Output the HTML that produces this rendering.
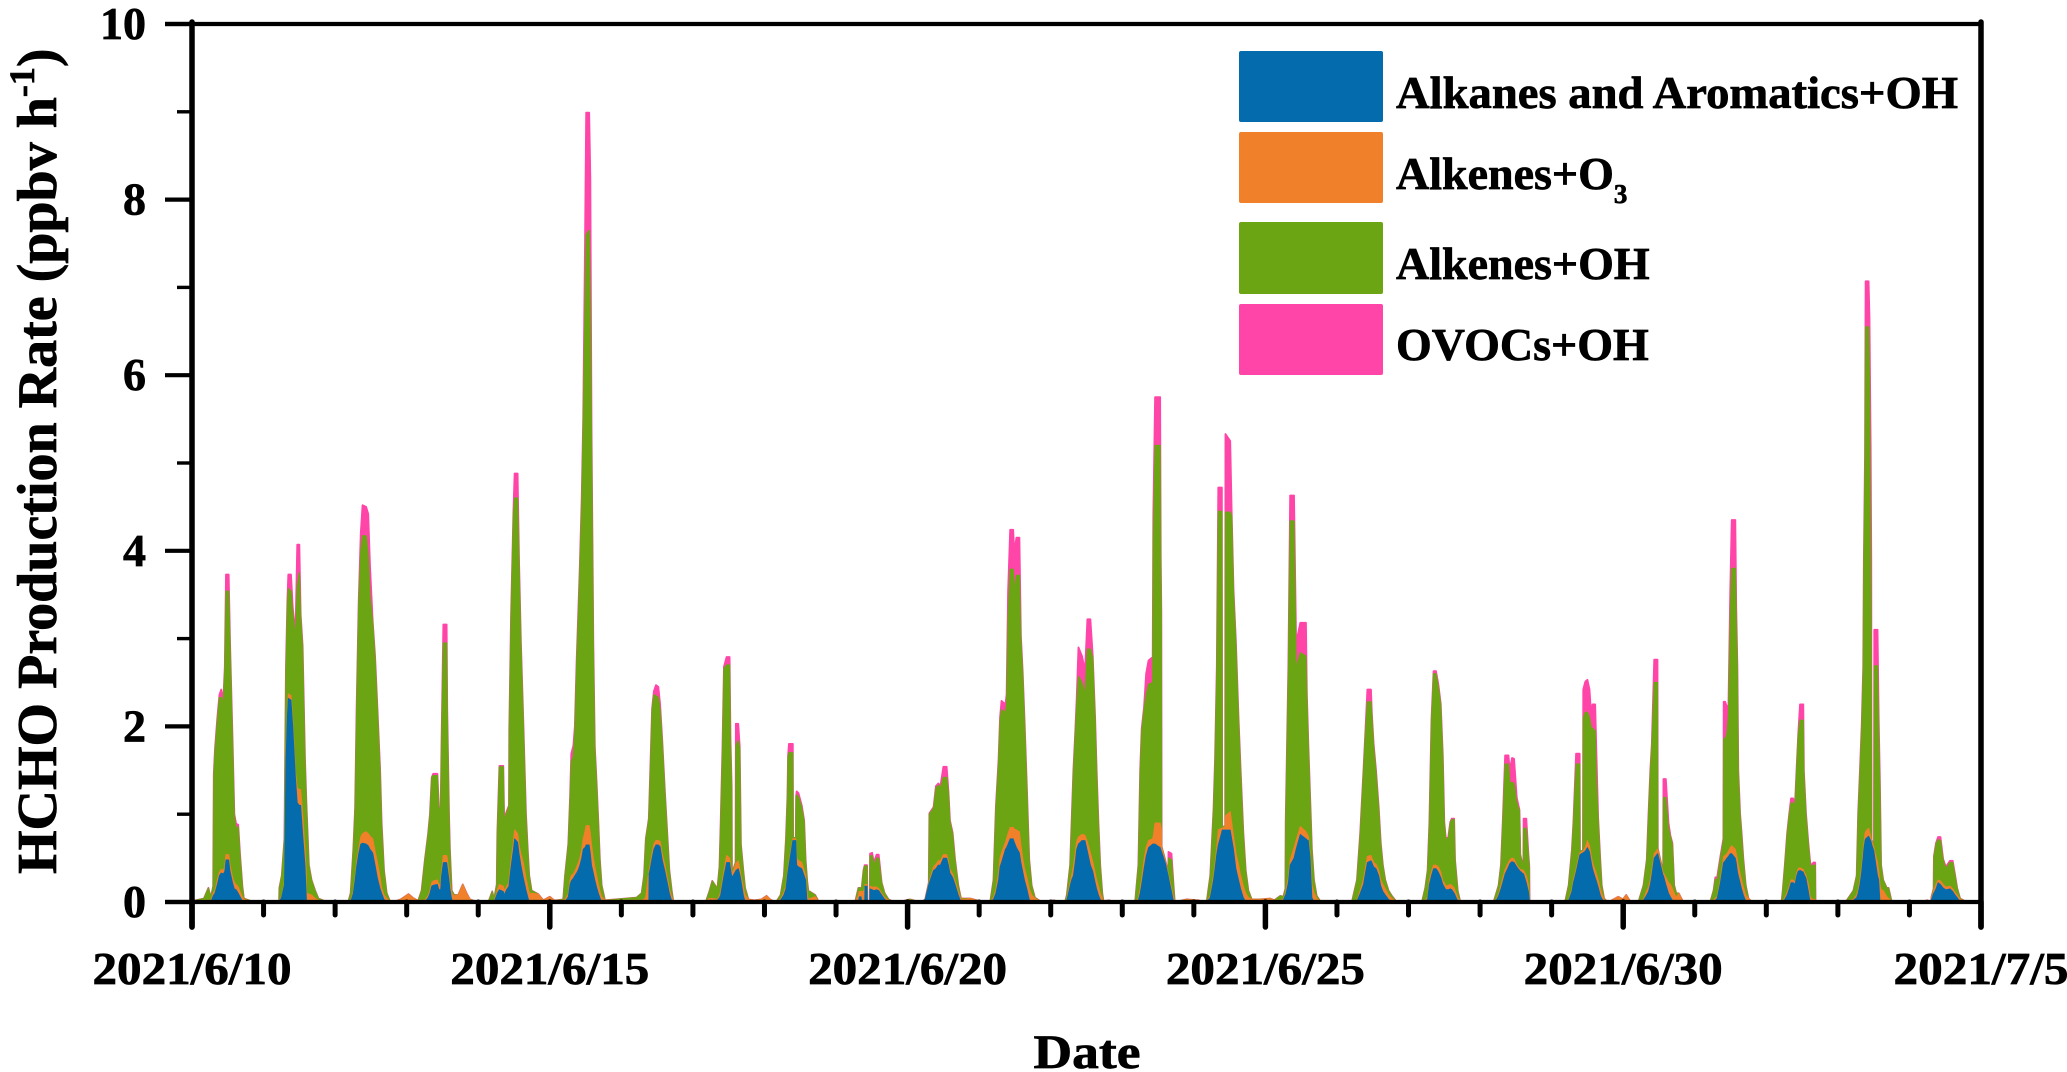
<!DOCTYPE html>
<html lang="en">
<head>
<meta charset="utf-8">
<title>HCHO Production Rate</title>
<style>
html,body{margin:0;padding:0;background:#fff;}
svg{display:block;}
text{font-family:"Liberation Serif","Times New Roman",serif;font-weight:bold;fill:#000;stroke:#000;stroke-width:0.7px;}
</style>
</head>
<body>
<svg id="chart" xmlns="http://www.w3.org/2000/svg" width="2067" height="1072" viewBox="0 0 2067 1072">
  <rect x="0" y="0" width="2067" height="1072" fill="#ffffff"/>
  <g id="series"></g>
  <g id="axes"></g>
  <text transform="translate(56,874) rotate(-90)" font-size="56">HCHO Production Rate (ppbv h<tspan dy="-22" font-size="36">-1</tspan><tspan dy="22">)</tspan></text>
  <text x="1087" y="1068" font-size="48" text-anchor="middle" textLength="107" lengthAdjust="spacingAndGlyphs">Date</text>
  <g>
    <rect x="1239" y="51" width="144" height="71" rx="2" fill="#046CAC"/>
    <rect x="1239" y="132" width="144" height="71" rx="2" fill="#F0812A"/>
    <rect x="1239" y="222" width="144" height="72" rx="2" fill="#6CA513"/>
    <rect x="1239" y="304" width="144" height="71" rx="2" fill="#FF45A8"/>
    <text x="1396" y="108" font-size="46" textLength="562" lengthAdjust="spacingAndGlyphs">Alkanes and Aromatics+OH</text>
    <text x="1396" y="189" font-size="46">Alkenes+O<tspan dy="14" font-size="27">3</tspan></text>
    <text x="1396" y="279" font-size="46">Alkenes+OH</text>
    <text x="1396" y="360" font-size="46">OVOCs+OH</text>
  </g>
</svg>
<script>
// Hours since 2021/6/10 00:00; one line per daytime episode.
const hours = [
0,4,5.5,6.3,7.1,7.3,7.7,8.5,9.2,9.8,10.5,11,11.4,12.3,12.75,13.6,14.2,14.8,15.5,16.1,16.9,17.4,20.6,
29.2,29.3,30.1,31,31.5,32,32.3,33.2,33.8,34.7,35.3,36,36.45,37.1,37.9,38.3,38.4,39.2,40.1,41.3,42.4,45.2,
52.4,53.2,54.1,54.7,55.2,55.9,56.6,57.2,58.4,59.1,59.7,60.6,61.4,62.2,63.1,63.6,64.4,65.3,66.4,67.5,70,72.6,74,75.5,
75.9,77,78.1,79.2,79.8,80.4,80.9,82.3,82.8,83.4,83.7,84.3,85.4,85.6,86.2,86.5,87.1,87.9,89.3,90.8,92.1,93.2,94.9,
99.4,100.7,101.3,102.2,102.4,103.1,104.4,104.7,105.5,106.3,106.4,107,107.8,108.2,109.2,109.7,110.3,111.1,112,112.6,113.1,113.9,116.1,117.8,120,121.4,
122.3,124.5,125.1,126.2,126.8,127.2,127.9,128.4,129,129.6,130.1,130.7,131.2,131.8,132.2,133.2,133.6,134,134.6,135.1,135.7,136.3,136.8,137.4,138.5,
149.1,150.8,151.6,152.2,153,153.2,153.3,153.8,154.3,154.9,155.6,156.4,157,157.7,158.6,159.4,160.1,160.9,161.4,
172.4,173.5,174.5,176.2,176.9,177.3,177.9,178.4,179.3,180.3,180.6,181,181.1,182.3,182.4,183.2,183.7,184.1,184.9,185.5,186.6,188.5,191,192.7,193.9,195,
196.1,197.4,198.5,199.2,199.7,199.9,200.2,201.5,201.6,202.5,202.6,202.8,203.4,204.5,205.3,205.8,206.3,206.7,209,210.1,
222.4,223.5,223.8,224.4,224.6,225.2,225.6,225.7,226.4,226.5,227.3,227.4,228.1,228.7,229.6,230.3,231.3,232.3,233.6,234.8,237,240.8,243,
244.7,245.9,247.1,247.3,248.7,249.5,250.3,251,252,253.1,253.7,254.2,255.1,255.9,257,257.9,261,264.3,
267.7,268.8,269.6,270.5,271,271.5,272.8,273.2,273.7,274.4,275.4,275.8,276.5,277.5,278,278.6,279.2,280,280.8,281.6,282.7,284.5,
287,289,291,292.8,293.4,294.5,295,295.6,296.2,296.7,297.3,298.5,299.5,300.3,301.3,302.1,302.9,303.4,304,304.6,305.3,305.7,307.5,309.5,
316.3,317.4,318,318.5,319.3,320,320.8,322.2,322.4,323,324.7,324.9,325.1,325.2,326.4,327.4,327.5,328.5,329.2,329.6,333.6,337.5,339,
340.3,341.5,342.6,343.1,343.7,344.2,345.4,345.5,346.5,346.6,348.2,348.7,349.3,350.1,351,351.7,352.6,353.4,354.3,355.4,358,361.5,363,365,
366,366.7,366.8,367.7,368.3,369.6,370.3,371.7,373.6,373.9,374.4,375,375.6,376.3,377.2,378.4,
389,390.7,391.8,392.9,393.5,394.2,395.4,395.7,396.3,397.1,398,398.7,399.4,400.2,401.3,402.4,403.8,
412.5,413.6,414.4,415,415.7,416.4,417.2,418,418.8,419.5,420,420.5,421.3,422,422.5,423.3,423.6,424.5,425.3,
436.5,437.6,438.2,439,439.6,440.4,441.5,442,442.7,443.4,444.3,445.2,445.5,446.5,446.6,447.5,448.2,448.5,448.6,
460.5,461.7,462.8,463.3,464.2,465.4,465.5,466.5,466.6,467.3,468,468.7,469.3,469.7,470.6,471,471.6,472.3,472.8,473.6,474.5,475.6,478.4,479.9,481,482.3,
485.1,486.8,487.9,488.5,489.1,489.6,490.4,491.5,491.6,493.4,493.5,494.3,495.2,495.8,496.5,497.1,497.8,498.6,500,
509.2,510.3,510.9,511.5,512.6,513.6,513.7,514.2,514.8,515.3,515.9,516.4,517.6,517.9,518.3,518.6,519.2,519.7,520.3,521.1,522,523,
533.1,533.5,534.2,535,535.7,536.3,537,537.6,538.2,538.7,539.3,540.4,540.6,541.3,542.1,542.6,542.9,543.8,544.4,544.5,
553.8,555,557.2,558.3,558.8,559.4,560,560.5,560.7,561.1,561.3,562.3,562.6,563,563.2,563.3,564.1,564.2,565.3,565.7,566.1,566.5,567.2,568.4,569,570,
580,582,583.2,583.4,584.1,584.2,584.9,585.6,586.4,587.3,588.2,589.6,590.5,591.3,592,593,594.7,600
];
const alkanesAromaticsOH = [
0,0,0,0,.07,.08,.1,.2,.3,.33,.32,.35,.48,.48,.35,.22,.15,.14,.1,.06,.01,0,0,
0,0,.06,.2,1.6,2.13,2.32,2.3,2,1.42,1.13,1.1,1.1,.78,.42,.1,0,0,0,0,0,0,
0,0,.1,.25,.4,.55,.66,.67,.66,.64,.6,.56,.42,.27,.15,.1,.03,0,0,0,0,0,0,0,
0,0,0,.05,.1,.18,.19,.2,.14,.14,.3,.45,.45,.4,.25,.15,.03,0,0,0,0,0,0,
0,0,0,.08,.1,.14,.12,.08,.14,.18,.22,.4,.6,.72,.68,.55,.42,.28,.14,.06,0,0,0,0,0,0,
0,0,0,.06,.2,.24,.27,.3,.33,.37,.42,.5,.6,.62,.65,.65,.55,.42,.33,.25,.17,.1,.05,0,0,
0,0,0,0,0,0,.32,.4,.5,.6,.65,.65,.63,.48,.35,.22,.1,.01,0,
0,.02,.02,.02,.05,.08,.2,.3,.45,.45,.38,.3,.28,.35,.36,.38,.32,.25,.08,0,0,0,0,0,0,0,
0,.02,.08,.15,.3,.35,.42,.7,.7,.7,.6,.42,.4,.38,.3,.25,0,0,0,0,
0,0,.06,.06,0,0,0,.18,.18,0,0,.15,.14,.13,.14,.13,.08,.03,0,0,0,0,0,
0,.03,.2,.22,.36,.38,.42,.42,.5,.5,.42,.33,.28,.2,.08,0,0,0,
0,.03,.1,.25,.4,.45,.6,.62,.66,.72,.72,.68,.62,.56,.45,.35,.25,.15,.03,0,0,0,
0,0,0,0,.02,.18,.25,.3,.45,.6,.66,.7,.7,.58,.42,.35,.22,.15,.08,.03,0,0,0,0,
0,.02,.1,.2,.38,.52,.62,.66,.66,.66,.62,.6,.58,.57,.45,.3,.28,.12,0,0,0,0,0,
0,.05,.25,.38,.55,.65,.8,.82,.82,.82,.82,.72,.6,.38,.25,.15,.05,0,0,0,0,0,0,0,
.02,.08,.08,.22,.42,.5,.6,.77,.72,.71,.7,.5,.05,0,0,0,
0,.01,.1,.2,.32,.45,.47,.45,.4,.38,.3,.18,.12,.08,.03,0,0,
0,.01,.03,.2,.3,.38,.38,.34,.28,.2,.17,.14,.14,.15,.14,.1,.08,.01,0,
0,.03,.07,.15,.22,.32,.4,.44,.46,.45,.4,.36,.35,.32,.32,.22,.12,.03,0,
0,.02,.12,.22,.34,.53,.54,.56,.56,.58,.62,.57,.45,.38,.28,.24,.17,.08,.04,0,0,0,0,0,0,0,
0,.02,.08,.12,.2,.3,.5,.55,.55,.3,.3,.2,.1,.06,.02,0,0,0,0,
0,.01,.02,.04,.22,.44,.45,.47,.5,.52,.55,.55,.5,.45,.35,.3,.22,.15,.08,.01,0,0,
0,0,.03,.08,.15,.22,.22,.2,.3,.35,.36,.34,.32,.27,.12,.02,0,0,0,0,
0,0,.02,.05,.1,.2,.35,.52,.6,.7,.72,.75,.73,.7,.68,.66,.58,.55,.3,.25,.02,0,0,0,0,0,
0,0,0,.03,.1,.1,.15,.22,.2,.16,.14,.15,.12,.08,.05,0,0,0
];
const alkenesO3 = [
.01,.02,.02,.02,.03,.03,.03,.05,.04,.04,.04,.05,.06,.06,.07,.06,.07,.06,.07,.06,.05,.03,0,
0,.01,.01,.02,.02,.03,.05,.05,.05,.05,.17,.18,.18,.22,.18,.23,.1,.09,.08,.04,.02,0,
0,.01,.02,.03,.05,.05,.08,.11,.14,.14,.15,.16,.16,.18,.13,.06,.05,.04,.01,0,.03,.09,.05,.02,
.02,.02,.02,.02,.03,.04,.05,.05,.06,.06,.05,.08,.08,.1,.07,.07,.07,.07,.08,.2,.1,.03,.01,
0,.01,.01,.02,.04,.06,.06,.05,.03,.05,.05,.07,.08,.1,.1,.1,.13,.17,.13,.12,.1,.1,.09,.02,.06,.02,
.02,.02,.03,.03,.05,.06,.05,.05,.07,.08,.08,.1,.12,.18,.22,.22,.23,.23,.17,.15,.13,.1,.07,.06,.02,
.02,.02,.03,.05,.3,.3,.04,.05,.06,.06,.05,.05,.06,.07,.07,.06,.05,.05,.01,
.01,.02,.02,.01,.02,.04,.05,.05,.08,.05,.05,.04,.04,.07,.08,.09,.06,.05,.09,.08,.03,.02,.03,.07,.03,.01,
.01,.01,.03,.03,.02,.03,.03,.02,.02,.02,.05,.08,.07,.07,.06,.05,.1,.03,.06,.01,
0,.08,.06,.06,.12,.12,.15,.02,.02,0,0,.03,.03,.04,.03,.02,.02,.02,.02,.01,0,.02,.01,
0,0,.01,.02,.04,.05,.05,.05,.04,.04,.04,.04,.04,.04,.04,.03,.04,.01,
0,.02,.04,.08,.1,.11,.08,.1,.12,.13,.13,.15,.2,.24,.2,.15,.13,.13,.12,.08,.04,.01,
0,.02,0,0,.01,.04,.05,.1,.1,.09,.08,.07,.06,.1,.14,.11,.11,.1,.1,.07,.04,.01,.02,0,
0,.02,.05,.07,.1,.1,.08,.06,.09,.24,.28,.27,.26,.05,.02,.02,.02,.04,.05,0,.03,.02,0,
0,.02,.05,.05,.07,.17,.04,.02,.04,.16,.21,.18,.15,.18,.17,.15,.13,.1,.05,.03,.03,.04,.02,.02,
.01,.02,.03,.06,.06,.12,.1,.09,.08,.07,.05,.05,.15,.1,.04,.01,
0,.01,.03,.06,.06,.07,.06,.05,.05,.05,.06,.07,.08,.07,.05,.04,.01,
0,.01,.02,.05,.05,.04,.04,.06,.06,.04,.05,.04,.05,.05,.05,.06,.05,.04,.01,
0,.01,.02,.04,.05,.05,.05,.04,.04,.04,.02,.02,.02,.04,.04,.08,.08,.03,0,
0,.01,.02,.03,.03,.03,.02,.02,.02,.04,.08,.07,.07,.07,.08,.08,.08,.07,.06,.03,.01,.01,.06,.03,.08,.01,
0,.01,.05,.05,.05,.05,.05,.05,.05,.03,.03,.08,.12,.14,.13,.1,.05,.1,.01,
0,.01,.02,.02,.03,.06,.07,.06,.05,.06,.07,.09,.1,.1,.13,.12,.1,.1,.09,.07,.04,.01,
0,.01,.02,.03,.03,.03,.03,.02,.03,.03,.03,.03,.03,.03,.08,.06,.04,.03,.03,0,
0,.01,.01,.03,.03,.05,.05,.06,.05,.08,.08,.09,.07,.05,.04,.04,.04,.05,.15,.1,.18,.14,.13,.06,.04,.01,
0,0,0,.02,.03,.04,.05,.03,.04,.04,.03,.03,.03,.03,.03,.03,.01,0
];
const alkenesOH = [
0,.02,.14,.03,.08,1.32,1.59,1.82,1.99,1.96,1.91,2.26,3,3,2.53,1.55,.76,.63,.69,.42,.12,.01,0,
0,.15,.23,.5,1.01,1.24,1.2,1.19,1.25,1.53,2.3,2.47,1.97,1.9,1,.87,1,.33,.17,.09,.02,0,
0,.09,.48,.79,1.74,2.8,3.26,3.39,3.37,3.17,2.73,2.47,2.2,1.74,1.2,.73,.28,.06,0,0,0,0,0,0,
0,.11,.46,.71,.87,1.2,1.2,1.19,.87,.87,1.49,2.42,2.42,1.69,.68,.38,.03,.01,0,0,0,0,0,
0,.11,.02,.1,.64,1.34,1.36,.8,.84,.87,1.68,2.78,3.74,3.78,3.82,3.19,2.4,1.62,.73,.42,.2,.03,0,0,0,0,
0,.01,.27,.57,.94,1.3,1.34,1.6,2.32,2.85,3.34,3.94,4.76,6,6.73,6.78,6.02,4.65,2.43,1.35,1.05,.7,.36,.13,0,
.03,.08,.27,.67,.6,.65,.69,1.15,1.63,1.7,1.65,1.63,1.5,1.29,.83,.5,.21,.07,0,
0,.08,.2,.12,.33,.78,1.47,2.31,2.17,2.2,1.41,.96,.01,.03,1.34,1.37,1.37,.36,.19,.08,0,0,0,0,0,0,
0,.05,.19,.54,.88,1.27,1.25,.98,.01,.01,.54,.72,.73,.63,.56,.18,.15,.1,.02,0,
0,.08,.04,.04,.04,.24,.26,.21,.21,0,0,.34,.36,.25,.33,.35,.12,.05,.01,0,0,.01,0,
0,0,.01,.76,.67,.87,.86,.83,.88,.88,.79,.55,.46,.24,.07,.01,0,0,
0,.2,.93,1.27,1.57,1.63,1.48,1.53,2.47,2.94,2.94,2.71,2.9,2.92,2.35,2.1,1.69,1.02,.33,.11,.01,0,
0,0,0,0,.05,.2,.6,1.08,1.35,1.56,1.83,1.73,1.6,2.2,2.32,2.32,1.74,1.23,.72,.32,.06,0,0,0,
0,.38,1.33,1.68,1.71,1.74,1.78,1.78,3.38,4.3,4.3,2.97,2.46,.01,.01,.01,.2,.32,.14,0,0,0,0,
0,.23,.75,1.17,2.04,3.63,3.61,.01,.01,3.46,3.41,3.5,2.79,2.39,1.65,1.18,.6,.26,.08,0,0,0,0,.05,
.03,.05,.79,2.38,3.86,3.72,1.96,1.98,2,1.58,1.03,.64,.4,.15,.03,0,
0,.23,.65,1.24,1.52,1.76,1.75,1.63,1.33,1.05,.71,.41,.22,.1,.05,.03,0,
0,.14,.31,.65,1.72,2.18,2.18,2.05,1.91,1.42,.68,.54,.53,.7,.75,.78,.35,.08,0,
0,.08,.1,.23,.63,1.2,1.12,.88,.86,.86,.71,.66,.17,.02,.48,.54,.34,.34,0,
0,.16,.46,.65,1.2,1.01,.01,.01,1.52,1.54,1.46,1.46,1.46,1.53,1.59,1.08,.7,.33,.09,.01,0,0,0,0,0,0,
0,.16,.35,.83,1.23,1.43,1.95,1.9,.01,.01,.86,.91,.62,.55,.51,.09,.05,0,0,
0,.11,.22,.19,.25,.2,1.34,1.33,1.37,1.54,2.63,3.16,3.2,2.7,2.18,1.06,.68,.53,.31,.11,0,0,
0,.12,.37,.67,.82,.88,.88,.88,1.21,1.52,1.68,1.7,1.13,.7,.46,.4,.36,.39,.39,0,
0,.01,.1,.22,.87,1.23,1.6,2.08,3.19,4.22,5.75,5.71,5.17,3.25,2.28,.01,.01,2.09,2.24,1.55,1.1,.28,.12,.1,.12,0,
0,.02,0,.01,.02,.37,.46,.46,.46,.28,.21,.27,.3,.19,.08,.01,0,0
];
const ovocsOH = [
0,0,0,0,0,.02,.02,.03,.03,.09,.03,.02,.19,.19,.02,.02,.02,.06,.02,.01,0,0,0,
0,0,0,0,.03,.05,.16,.19,.05,.05,.47,.32,.02,.02,.02,0,0,0,0,0,0,0,
0,0,0,0,.01,.02,.2,.35,.33,.47,.35,.01,.02,.01,.02,.01,0,0,0,0,0,0,0,0,
0,0,0,0,0,0,.02,.02,0,0,.01,.21,.21,.01,0,0,0,0,0,0,0,0,0,
0,0,0,0,0,.01,.01,.01,.02,0,.01,.01,.03,.28,.28,.02,.02,.01,.01,0,0,0,0,0,0,0,
0,0,0,0,.01,.09,.12,.05,.03,.05,.02,.06,.02,.68,1.39,1.34,1.45,.06,.02,.02,.01,0,0,0,0,
0,0,0,0,0,0,0,.02,.01,.04,.12,.12,.06,.01,.01,0,0,0,0,
0,0,0,0,0,0,.02,.02,.09,.09,.02,.01,0,0,.25,.19,.02,0,0,0,0,0,0,0,0,0,
0,0,0,0,0,.01,.1,.1,0,0,.01,.04,.04,.02,.01,0,0,0,0,0,
0,0,0,0,0,0,.01,.01,.01,0,0,.03,.03,.03,.04,.04,0,0,0,0,0,0,0,
0,0,0,.01,.01,.02,.02,.02,.12,.12,.01,.01,.01,.01,0,0,0,0,
0,0,.01,.02,.03,.1,.09,.11,.29,.45,.45,.44,.43,.43,.03,.02,.02,.01,0,0,0,0,
0,0,0,0,0,0,.01,.02,.02,.06,.33,.3,.27,.34,.34,.02,.02,.02,.01,0,0,0,0,0,
0,0,.02,.02,.03,.24,.27,.29,.27,.55,.55,.11,0,0,0,0,.07,.07,0,0,0,0,0,
0,0,.01,.02,.02,.27,.27,0,0,.89,.81,.02,.02,.02,.02,.02,.01,0,0,0,0,0,0,0,
0,0,.01,.02,.29,.29,.29,.34,.38,.02,.02,.01,0,0,0,0,
0,0,.01,.01,.02,.14,.14,.02,.02,.02,.01,.01,0,0,0,0,0,
0,0,0,.01,.01,.03,.03,.03,.01,.01,.01,.01,.01,.01,.01,.01,0,0,0,
0,0,0,0,.01,.1,.1,.14,.28,.28,.06,.01,0,0,.11,.11,.01,.01,0,
0,0,0,.01,.12,.12,0,0,.32,.35,.37,.32,.12,.27,.3,.32,.01,.01,0,0,0,0,0,0,0,0,
0,0,0,.01,.02,.02,.26,.26,0,0,.21,.21,.06,.01,.01,0,0,0,0,
0,0,.02,.03,.02,.02,.42,.42,.3,.12,.29,.55,.55,.12,.02,.02,.01,.01,.01,0,0,0,
0,0,0,.01,.01,.05,.05,0,.01,.01,.18,.18,.01,.01,.01,.01,.01,.03,.03,0,
0,0,0,0,.01,.02,.02,.02,.02,.1,.52,.52,.68,1.16,.9,0,0,.41,.41,.17,.06,0,0,0,0,0,
0,0,0,0,0,.01,.01,.03,.04,.01,.02,.02,.02,.01,0,0,0,0
];
const yMajorTickValues = [0, 2, 4, 6, 8, 10];
const yMinorTickValues = [1, 3, 5, 7, 9];
const xMajorTickLabels = ["2021/6/10", "2021/6/15", "2021/6/20", "2021/6/25", "2021/6/30", "2021/7/5"];
const xMajorTickDays = [0, 5, 10, 15, 20, 25];
const xMinorTickDays = [1,2,3,4,6,7,8,9,11,12,13,14,16,17,18,19,21,22,23,24];

const NS = "http://www.w3.org/2000/svg";
const plotLeft = 192, plotRight = 1981, plotTop = 24, plotBottom = 902;
function xFromHours(h) { return plotLeft + h / 600 * (plotRight - plotLeft); }
function xFromDays(d) { return xFromHours(d * 24); }
function yFromValue(v) { return plotBottom - v / 10 * (plotBottom - plotTop); }

function make(tag, attrs, parent) {
  const el = document.createElementNS(NS, tag);
  for (const k in attrs) el.setAttribute(k, attrs[k]);
  parent.appendChild(el);
  return el;
}

// Stacked areas: top of the stack drawn first so each lower layer's edge stays crisp.
const layers = [
  { key: "ovocs-oh-area", color: "#FF45A8", depth: 4, edge: 1.8 },
  { key: "alkenes-oh-area", color: "#6CA513", depth: 3, edge: 1.2 },
  { key: "alkenes-o3-area", color: "#F0812A", depth: 2, edge: 1 },
  { key: "alkanes-aromatics-oh-area", color: "#046CAC", depth: 1, edge: 0.8 }
];
const stackOrder = [alkanesAromaticsOH, alkenesO3, alkenesOH, ovocsOH];
function stackTop(i, depth) {
  let sum = 0;
  for (let s = 0; s < depth; s++) sum += stackOrder[s][i] || 0;
  return sum;
}
const seriesGroup = document.getElementById("series");
layers.forEach(function (layer) {
  const upper = [], lower = [];
  for (let i = 0; i < hours.length; i++) {
    const x = xFromHours(hours[i]).toFixed(2);
    upper.push(x + "," + yFromValue(stackTop(i, layer.depth)).toFixed(2));
    lower.unshift(x + "," + yFromValue(stackTop(i, layer.depth - 1)).toFixed(2));
  }
  const area = make("path", {
    d: "M" + upper.join("L") + "L" + lower.join("L") + "Z",
    fill: layer.color, stroke: layer.color, "stroke-width": layer.edge, "stroke-linejoin": "round"
  }, seriesGroup);
  
  
});

// Axes
const axes = document.getElementById("axes");
function line(x1, y1, x2, y2, w, cap) {
  return make("line", { x1: x1, y1: y1, x2: x2, y2: y2, stroke: "#000", "stroke-width": w, "stroke-linecap": cap || "butt" }, axes);
}
const topAxis = line(165, plotTop, plotRight + 2, plotTop, 4.2);


const bottomAxis = line(165, plotBottom, plotRight + 2, plotBottom, 4.2);


const leftAxis = line(plotLeft, plotTop - 2, plotLeft, 927, 5.5, "round");


const rightAxis = line(plotRight, plotTop - 2, plotRight, 927, 5.5, "round");



yMajorTickValues.forEach(function (v) {
  const y = yFromValue(v);
  const tick = line(165, y, plotLeft, y, 4.2);
  
  
  const label = make("text", { x: 146, y: y + 15, "font-size": 46, "text-anchor": "end" }, axes);
  label.textContent = String(v);
  
  
});
yMinorTickValues.forEach(function (v) {
  const y = yFromValue(v);
  const tick = line(177, y, plotLeft, y, 3.4);
  
  
});
xMinorTickDays.forEach(function (d) {
  const x = xFromDays(d);
  const tick = line(x, plotBottom, x, 915, 5, "round");
  
  
});
xMajorTickDays.forEach(function (d, i) {
  const x = xFromDays(d);
  const tick = line(x, plotBottom, x, 927, 5.5, "round");
  
  
  const text = xMajorTickLabels[i];
  const label = make("text", {
    x: x, y: 984, "font-size": 46, "text-anchor": "middle",
    textLength: text.length === 9 ? 199 : 175, lengthAdjust: "spacingAndGlyphs"
  }, axes);
  label.textContent = text;
  
  
});
</script>
</body>
</html>
